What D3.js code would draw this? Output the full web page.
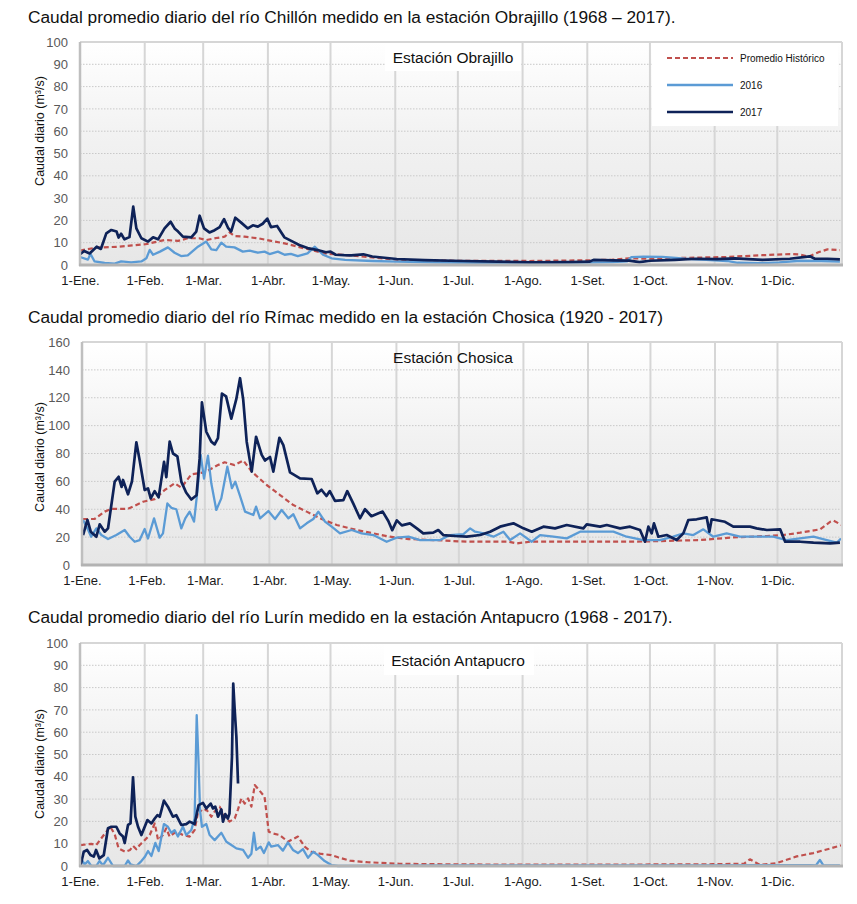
<!DOCTYPE html>
<html>
<head>
<meta charset="utf-8">
<script src="https://cdn.jsdelivr.net/npm/d3@7"></script>
<style>
  html, body { margin: 0; padding: 0; background: #ffffff; }
  svg { display: block; font-family: "Liberation Sans", Arial, Helvetica, sans-serif; }
</style>
</head>
<body>
<svg id="chart" width="857" height="904"></svg>
<script>
// ---------- DATA ----------
const monthLabels = ["1-Ene.", "1-Feb.", "1-Mar.", "1-Abr.", "1-May.", "1-Jun.", "1-Jul.", "1-Ago.", "1-Set.", "1-Oct.", "1-Nov.", "1-Dic."];
const monthStartDays = [0, 31, 59, 90, 120, 151, 181, 212, 243, 273, 304, 334];
const seriesNames = ["Promedio Histórico", "2016", "2017"];

const titles = [
  "Caudal promedio diario del río Chillón medido en la estación Obrajillo (1968 – 2017).",
  "Caudal promedio diario del río Rímac medido en la estación Chosica (1920 - 2017)",
  "Caudal promedio diario del río Lurín medido en la estación Antapucro (1968 - 2017)."
];
const stationNames = ["Estación Obrajillo", "Estación Chosica", "Estación Antapucro"];
const yMaxes = [100, 160, 100];
const yTickSteps = [10, 20, 10];
const yAxisTitle = "Caudal diario (m³/s)";

// [day of year, m3/s]
const obrHist = [[0,6.5],[8,7.8],[18.5,8.2],[25,8.8],[31.3,9.3],[40.5,11.2],[47,10.8],[51.6,12],[57,12],[60.5,11.2],[66,12.2],[69.3,12.7],[71.7,14.6],[74,13],[78.8,12.7],[85.2,12],[91.6,10.8],[98,9.7],[104.4,8.2],[110.8,6.7],[117.2,5.2],[126.8,4.5],[135,3.8],[145,3],[152,2.3],[165,2],[181,1.9],[200,1.9],[215,1.8],[243,2.1],[255,2.4],[263,3],[273,2.8],[285,3.1],[295,3.3],[310,3.6],[327,4.4],[340,4.9],[345,4.7],[349,3.7],[354,5.8],[358,7],[364,6.7]];
const obr2016 = [[0,3.6],[3.8,2.4],[5,5],[7,1.6],[11.8,0.9],[16.6,0.6],[19.7,1.6],[24.5,1.2],[29.4,1.6],[31.8,3],[33.4,6.8],[35,4.6],[38.3,6],[42.1,7.9],[45.3,5.5],[48.4,4],[51.6,4.3],[56.5,8.2],[60.5,10.5],[62.9,7],[65.3,6.7],[67.7,10],[70,8.2],[74,7.9],[78,6],[81.3,6.4],[85.2,5.5],[88.4,6],[90.8,4.9],[94.8,6],[98,4.6],[101,5],[104.3,4],[109,5.2],[112.5,8.2],[116.4,4.6],[120.5,3],[127,2.3],[140,1.8],[152,1.5],[170,1.2],[190,1],[215,0.9],[240,1.1],[255,1.3],[262,1.6],[264,3.5],[270,3.8],[279,3.6],[290,2.8],[300,2.3],[310,1.8],[315,1],[325,0.8],[335,1.2],[345,1.9],[355,1.8],[364,1.5]];
const obr2017 = [[0,4.8],[2,6.3],[4.6,5.2],[8,8.2],[10,7.2],[12.6,14.2],[15,15.7],[17.5,15],[18.5,12.3],[19.7,14],[21.3,11.5],[23.7,12.5],[25.5,26.2],[27,16.4],[29.4,12],[32.6,10.5],[35,12.4],[37.4,11.5],[40.5,16.4],[43.4,19.4],[45.3,16.4],[47,15],[49.3,12.7],[53.3,12.4],[55.7,15],[57.3,22.1],[59.4,16.4],[62,14.6],[64.5,15.6],[66.9,17],[69,20.6],[71,16.5],[72.4,15],[74.4,21.2],[77.2,19],[80.4,16.4],[82.8,17.8],[85.2,17.2],[87.5,18.5],[89.7,20.8],[91.5,17],[94.4,17.5],[97.9,12.4],[101.9,10.5],[105,9],[109,7.6],[113.8,6.7],[117.8,5.7],[120,6],[122.5,4.6],[126.5,4.4],[130,4.3],[135.7,4.8],[140,3.8],[151.7,2.7],[165,2.2],[183.6,1.8],[200,1.5],[215.5,1.2],[235,1.3],[244,1.5],[246,2.3],[255,2.1],[263,2],[268,1.3],[273,1.9],[285,2.3],[295,2.8],[305,2.6],[313.7,3],[320,2.6],[327,2.3],[340,2.8],[349.6,3.9],[352,2.8],[358,2.8],[364,2.5]];

const choHist = [[0.5,33],[6,33],[10.9,38.3],[14,40.2],[22,40.2],[29.3,45.4],[34.9,47.3],[39.7,53.8],[44.5,58.6],[47.7,55.5],[52.5,65],[58.9,66.5],[65.3,71.7],[68.5,73.7],[73.3,71.7],[77.5,75],[81.5,67],[88.7,57.4],[95.1,50.2],[101.5,43],[107.9,38.3],[115.1,33],[122.3,28.7],[131.9,25.1],[139.9,22.7],[147.9,20.3],[156.8,18.6],[168.7,17.9],[184.8,16.7],[205,16.7],[208.8,15.5],[215,16.7],[232.8,16.7],[264.8,16.7],[296.8,17.9],[312.8,19.8],[328.9,20.8],[336.9,21.5],[344.9,23.2],[354.5,25.6],[359.3,31],[360.9,31.8],[364.9,28.7]];
const cho2016 = [[0.5,32.3],[2.6,26.3],[4.4,20.3],[6.9,26.3],[9.3,21.5],[12.5,18.6],[16.5,21.5],[20.5,25.1],[22.9,20.3],[25.3,16.7],[27.7,17.9],[30.1,25.8],[31.7,19],[34.6,33.5],[37.3,19.6],[38.9,22.7],[41,44.2],[42.9,41],[45.3,40],[47.7,26.3],[49.6,33.5],[51.7,38.3],[53.8,31.1],[55.4,52.6],[57,79],[58.6,62],[60.5,78.5],[62.1,58.6],[64.5,39.5],[66.9,47.8],[69.8,70.5],[72,55.1],[73.6,59.8],[75.8,50],[78.3,38.3],[82.3,35.9],[83.6,41.9],[85.5,33.5],[89.5,38.7],[92.7,33],[95.9,39.5],[99.1,33.5],[101.5,36.4],[104.7,26.3],[107.9,29.9],[111.1,33],[113.5,38.3],[116.7,31.1],[119.9,27.5],[123.9,22.7],[129.5,25.1],[134.3,22.7],[139.9,21.5],[146.3,16.7],[151.1,19.6],[156.8,20.3],[162.4,17.9],[172,17.9],[176.8,21.5],[183.2,22.2],[186.4,26.3],[188.8,23.9],[192.8,22.7],[197.6,20.3],[202.4,23.9],[205.6,17.9],[210.4,22.7],[216,16.7],[220,21.5],[226.4,20.3],[232.8,19.1],[239.2,23.9],[248.8,23.9],[255.2,23.9],[261.6,20.3],[269.6,17.9],[277.6,17.9],[284,20.3],[288.8,22.7],[293.6,21.5],[298.4,25.6],[303.2,20.3],[309.6,22.7],[316,20.3],[322.4,20.3],[332,20.3],[338.4,17.9],[344.8,19.1],[351.3,20.3],[357.7,17.9],[362.5,16],[364.5,19]];
const cho2017 = [[0.5,21.5],[2.6,32.3],[4.2,23.9],[6.9,20.3],[8.5,29.2],[10.9,23.9],[12.5,26.3],[15.7,59.8],[17.6,63.3],[19,56],[19.7,61],[22.1,50.7],[24,60],[26.1,88],[27.7,75],[30.1,53.8],[31.7,55],[33,47.8],[34.9,53],[36.8,48.5],[39.4,74],[40.5,63],[42.1,88.5],[43.7,80],[45.8,78],[47.7,59.8],[50,52],[52.5,47],[55,50],[56.5,76.5],[57.6,116.7],[59.7,95.6],[62.1,88.5],[63.7,86.5],[65.3,91],[67.2,123],[69.2,121],[71.7,105],[74.1,119],[75.9,134],[77.4,119],[79.1,88.5],[81.5,67],[83.6,92],[86.3,79],[87.9,75],[90.3,77.5],[91.9,67],[94.8,91.3],[96.7,86],[99.9,66.5],[104.7,62.2],[110.3,61.7],[113,51.4],[115,54],[117.4,49.5],[119,53],[121.5,46],[125.5,46.5],[127.4,53],[130.3,44],[133.5,33.5],[135.9,40],[139,35],[144.4,38.3],[147.1,31.6],[149,25],[151.2,32],[153.6,28.4],[157.5,29.9],[160.8,26.3],[163.9,22.7],[168.7,23.2],[171.1,25.1],[173.5,21.5],[179.2,20.8],[184.8,20.3],[191.2,21.5],[196,23.9],[200.8,27.5],[207.2,29.9],[212,26.3],[216,23.9],[221.6,27.5],[227.2,26.3],[232.8,28.7],[240.8,26.3],[242.4,29.2],[248.8,27.5],[252,28.7],[258.4,26.3],[263.2,27.5],[268,25.1],[270.4,16.7],[272,27.5],[273.6,22.7],[274.7,29.9],[276.8,20.3],[280.8,21.5],[285.6,17.9],[288.8,22.7],[291.2,32.3],[295.2,32.8],[300,34.2],[301.3,23.9],[302.4,32.8],[308.8,31],[312.8,27.5],[320.8,27.5],[324,26.3],[328.9,25.1],[335.3,25.6],[337.7,16.7],[344.9,16.7],[351.3,16],[359.3,15.5],[364,16]];

const antHist = [[0.3,9.4],[5.4,9.9],[7.8,9.4],[11.4,13.9],[14.5,17.6],[16.6,14.3],[18.5,7.9],[21.7,6.4],[24,7.2],[25.4,9],[27,7.5],[28.6,9.4],[31,11.6],[33.4,13.9],[35.8,19.1],[37.4,11.6],[39.7,13.9],[41.3,16.9],[42.9,13.2],[46.1,15.4],[49.3,13.9],[52.5,13.2],[54.9,16.1],[56.8,25.4],[58.9,24.4],[60.5,25.4],[62.9,22.1],[64.5,24.4],[66.9,26.6],[69.3,22.4],[71.6,19.9],[74.1,21.3],[75.7,25.4],[77.3,30.3],[78.9,28],[80.5,30.3],[82.1,26.6],[83.7,36.3],[86,33.8],[88.4,31.1],[90.4,15.4],[92.4,14.6],[95.6,13.9],[99.6,10.9],[104.4,13.2],[107.6,8.7],[110.8,6.4],[115.6,5.4],[120.4,4.9],[123.6,3.9],[129.3,2.4],[137.6,1.7],[153,1],[180,0.7],[250,0.6],[303,0.8],[318,1],[320.9,3],[325.6,0.5],[333.7,1.3],[343.3,4.3],[351.2,5.8],[359.2,7.8],[364.8,9.3]];
const ant2016 = [[0.3,3.7],[2.2,0.7],[3.8,2.2],[5.4,0],[7.8,0],[9.3,2.2],[11,0.3],[13.4,3.7],[15.8,0],[21.4,0],[23,2.5],[24.2,0.7],[27,0],[29.4,2.2],[31,4],[32.6,6.7],[34.2,4.5],[36.1,10.4],[37.7,6.7],[40.2,18.8],[42.1,17.6],[43.7,14.9],[45.3,16.1],[46.9,13.2],[49.3,17.6],[50.9,13.9],[53.3,16.1],[54.9,21.3],[55.9,67.6],[56.8,46],[57.5,25],[58.4,17.6],[60.5,18.8],[62.1,13.9],[64.5,11.6],[67.7,14.9],[70.1,10.9],[72.5,9.4],[74.9,7.9],[78.1,7.2],[80.5,3.7],[82.1,5.5],[83.3,14.9],[84.4,7.2],[86.5,8.7],[88.1,5.8],[90.4,10.6],[91.6,8.7],[94.8,9.4],[97.2,6.9],[99.6,10.6],[102,7.2],[104.4,5.8],[106.8,7.6],[109.2,3.7],[111.7,6.4],[114,4.9],[117.2,2.2],[120.4,0.4],[123.6,0],[180,0.3],[250,0.3],[300,0.3],[350,0.4],[352.5,0.3],[354.4,2.7],[356,0.4],[364,0.3]];
const ant2017 = [[0.3,0.4],[1.8,6.4],[3.4,7.2],[5,4.9],[6.6,4.2],[7.7,7.2],[9.3,3.4],[11.4,4.9],[13.4,16.9],[15,17.6],[17.4,17.6],[19,14.6],[20.6,13.2],[21.4,10.3],[23,18.4],[24.2,19.1],[25.4,39.7],[26.5,22.1],[27.8,17.6],[29.4,13.9],[31,17.6],[32.3,20.6],[34.2,19.1],[35.8,21.3],[37.1,22.8],[38.2,22.1],[40.2,29.3],[42.1,26.6],[44.5,22.1],[46.1,22.8],[48.5,18.4],[50.9,18.8],[52.5,19.9],[54.9,18.8],[56.8,27.3],[58.9,28.3],[60.5,25.8],[62.6,28],[63.7,25.8],[64.8,26.6],[66.1,22.1],[67.7,25.4],[68.5,19.9],[69.6,23.3],[70.8,21.3],[71.6,23.5],[72.8,49],[73.4,81.8],[74.1,70],[74.9,58],[75.7,37]];

const panelSeries = [
  [obrHist, obr2016, obr2017],
  [choHist, cho2016, cho2017],
  [antHist, ant2016, ant2017]
];

// ---------- LAYOUT / STYLE ----------
const colors = ["#c0504d", "#5b9bd5", "#0e2258"];
const widths = [2.2, 2.3, 2.7];
const dashes = ["5,3", null, null];

const layouts = [
  {left: 80, right: 842, top: 42, bottom: 265, titleY: 23, yLabelY: 131, station: {cx: 453, cy: 58, box: [385, 43, 136, 28]}},
  {left: 82, right: 842, top: 342, bottom: 565, titleY: 323, yLabelY: 457, station: {cx: 453, cy: 358, box: null}},
  {left: 80, right: 842, top: 643, bottom: 866, titleY: 623, yLabelY: 764, station: {cx: 458, cy: 661, box: [384, 644, 150, 31]}}
];

const svg = d3.select("#chart");
const defs = svg.append("defs");
const grad = defs.append("linearGradient").attr("id", "bg").attr("x1", 0).attr("y1", 0).attr("x2", 0).attr("y2", 1);
grad.append("stop").attr("offset", "0%").attr("stop-color", "#ffffff");
grad.append("stop").attr("offset", "45%").attr("stop-color", "#f1f1f1");
grad.append("stop").attr("offset", "100%").attr("stop-color", "#e7e7e7");

layouts.forEach((L, i) => {
  const g = svg.append("g");
  const x = d3.scaleLinear().domain([0, 365]).range([L.left, L.right]);
  const y = d3.scaleLinear().domain([0, yMaxes[i]]).range([L.bottom, L.top]);

  // title
  g.append("text").attr("x", 28).attr("y", L.titleY)
    .attr("font-size", 17.3).attr("fill", "#111").text(titles[i]);

  // background
  g.append("rect").attr("x", L.left).attr("y", L.top)
    .attr("width", L.right - L.left).attr("height", L.bottom - L.top)
    .attr("fill", "url(#bg)");

  // horizontal dotted grid
  const yTicks = d3.range(0, yMaxes[i] + 0.001, yTickSteps[i]);
  g.selectAll(".hg").data(yTicks.filter(t => t > 0 && t < yMaxes[i])).join("line")
    .attr("x1", L.left).attr("x2", L.right)
    .attr("y1", d => y(d)).attr("y2", d => y(d))
    .attr("stroke", "#c9c9c9").attr("stroke-width", 1).attr("stroke-dasharray", "1.5,1.5");

  // vertical month grid
  g.selectAll(".vg").data(monthStartDays.filter(d => d > 0)).join("line")
    .attr("x1", d => x(d)).attr("x2", d => x(d))
    .attr("y1", L.top).attr("y2", L.bottom)
    .attr("stroke", "#d6d6d6").attr("stroke-width", 2);

  // station label
  if (L.station.box) {
    const b = L.station.box;
    g.append("rect").attr("x", b[0]).attr("y", b[1]).attr("width", b[2]).attr("height", b[3]).attr("fill", "#ffffff");
  }
  g.append("text").attr("x", L.station.cx).attr("y", L.station.cy + 5)
    .attr("text-anchor", "middle").attr("font-size", 15.5).attr("fill", "#111")
    .text(stationNames[i]);

  // series
  const line = d3.line().x(d => x(d[0])).y(d => y(d[1]));
  panelSeries[i].forEach((s, k) => {
    g.append("path").datum(s).attr("d", line)
      .attr("fill", "none").attr("stroke", colors[k]).attr("stroke-width", widths[k])
      .attr("stroke-linejoin", "round")
      .attr("stroke-dasharray", dashes[k]);
  });

  // frame
  g.append("line").attr("x1", L.left).attr("x2", L.right).attr("y1", L.top).attr("y2", L.top)
    .attr("stroke", "#d6d6d6").attr("stroke-width", 2);
  g.append("line").attr("x1", L.right).attr("x2", L.right).attr("y1", L.top).attr("y2", L.bottom)
    .attr("stroke", "#d6d6d6").attr("stroke-width", 2);
  g.append("line").attr("x1", L.left).attr("x2", L.left).attr("y1", L.top).attr("y2", L.bottom + 1)
    .attr("stroke", "#bfbfbf").attr("stroke-width", 2.5);
  g.append("line").attr("x1", L.left - 1).attr("x2", L.right + 1).attr("y1", L.bottom).attr("y2", L.bottom)
    .attr("stroke", "#b3b3b3").attr("stroke-width", 3);

  // axes
  const xAxis = d3.axisBottom(x).tickValues(monthStartDays)
    .tickFormat((d, j) => monthLabels[j]).tickSize(0).tickPadding(0);
  const xa = g.append("g").attr("transform", `translate(0,${L.bottom + 16})`).call(xAxis);
  xa.select(".domain").remove();
  xa.selectAll("text").attr("font-size", 13).attr("fill", "#1a1a1a")
    .attr("font-family", "\"Liberation Sans\", Arial, sans-serif").attr("dy", "0.32em");

  const yAxis = d3.axisLeft(y).tickValues(yTicks).tickSize(0).tickPadding(0);
  const ya = g.append("g").attr("transform", `translate(${L.left - 12},0)`).call(yAxis);
  ya.select(".domain").remove();
  ya.selectAll("text").attr("font-size", 13).attr("fill", "#595959")
    .attr("font-family", "\"Liberation Sans\", Arial, sans-serif");
  // y axis title
  g.append("text").attr("transform", `translate(44,${L.yLabelY}) rotate(-90)`)
    .attr("text-anchor", "middle").attr("font-size", 12.5).attr("fill", "#111")
    .text(yAxisTitle);

  // legend (first panel)
  if (i === 0) {
    const lg = g.append("g");
    lg.append("rect").attr("x", 652).attr("y", 43).attr("width", 186).attr("height", 83).attr("fill", "#ffffff");
    seriesNames.forEach((n, k) => {
      const ly = 58 + k * 27;
      lg.append("line").attr("x1", 667).attr("x2", 733).attr("y1", ly).attr("y2", ly)
        .attr("stroke", colors[k]).attr("stroke-width", widths[k]).attr("stroke-dasharray", dashes[k]);
      lg.append("text").attr("x", 740).attr("y", ly + 3.5).attr("font-size", 10).attr("fill", "#111").text(n);
    });
  }
});
</script>
</body>
</html>
